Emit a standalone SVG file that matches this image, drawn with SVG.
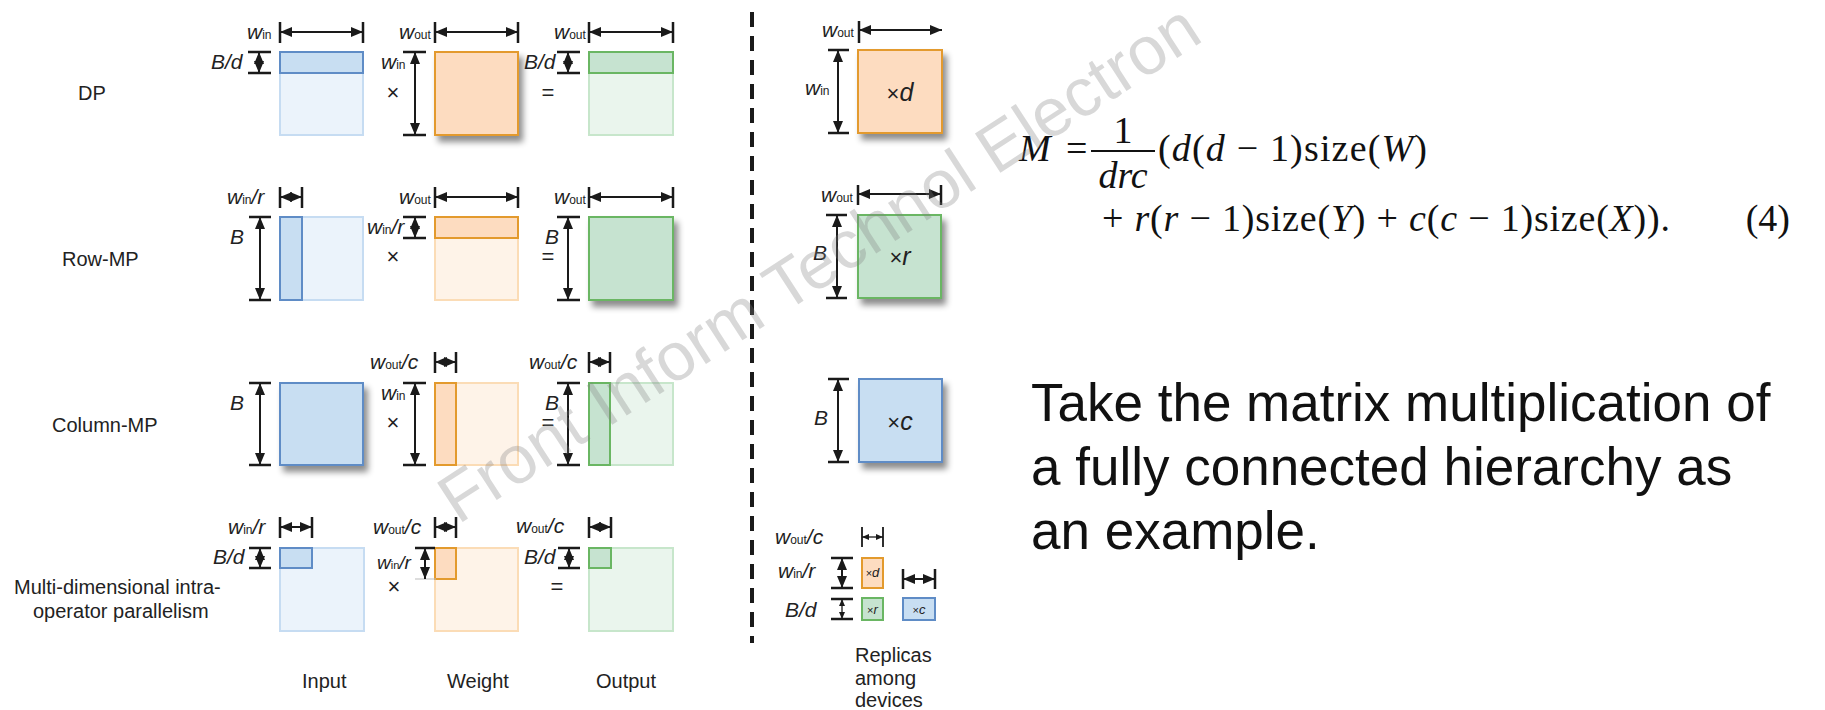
<svg xmlns="http://www.w3.org/2000/svg" width="1825" height="710" viewBox="0 0 1825 710">
<style>
text{font-family:"Liberation Sans",Arial,sans-serif;fill:#222}
.lab{font-size:21px;font-style:italic}
.sub{font-size:12px;font-style:normal}
.op{font-size:22px}
.row{font-size:20px}
.cap{font-size:20px}
.big{font-size:53px;fill:#111}
.math{font-family:"Liberation Serif","Times New Roman",serif;font-size:38px;fill:#111}
.mi{font-style:italic}
.tk{stroke:#1a1a1a;stroke-width:2.5;fill:none}
.arr{stroke:#1a1a1a;stroke-width:2;fill:none;marker-start:url(#ah);marker-end:url(#ah)}
.arrs{stroke:#1a1a1a;stroke-width:1.3;fill:none;marker-start:url(#ahs);marker-end:url(#ahs)}
.bD{fill:#c8def2;stroke:#5f8cc6;stroke-width:2}
.bL{fill:#ebf3fb;stroke:#c6dcf2;stroke-width:2}
.oD{fill:#fddcc0;stroke:#e39a2d;stroke-width:2}
.oL{fill:#fef3e8;stroke:#fbdcb6;stroke-width:2}
.gD{fill:#c6e3d0;stroke:#6ab663;stroke-width:2}
.gL{fill:#eaf5ed;stroke:#c7e6cb;stroke-width:2}
.sh{filter:url(#shadow)}
</style>
<defs>
<marker id="ah" viewBox="0 0 12 10" refX="12" refY="5" markerWidth="12" markerHeight="10" markerUnits="userSpaceOnUse" orient="auto-start-reverse"><path d="M0,0 L12,5 L0,10 z" fill="#1a1a1a"/></marker>
<marker id="ahs" viewBox="0 0 7 6" refX="7" refY="3" markerWidth="7" markerHeight="6" markerUnits="userSpaceOnUse" orient="auto-start-reverse"><path d="M0,0 L7,3 L0,6 z" fill="#1a1a1a"/></marker>
<filter id="shadow" x="-20%" y="-20%" width="150%" height="150%"><feDropShadow dx="4" dy="6" stdDeviation="3" flood-color="#000" flood-opacity="0.45"/></filter>
</defs>
<rect width="1825" height="710" fill="#fff"/>

<g id="row-labels">
<text class="row" x="78" y="100">DP</text>
<text class="row" x="62" y="266">Row-MP</text>
<text class="row" x="52" y="432">Column-MP</text>
<text class="row" x="14" y="594">Multi-dimensional intra-</text>
<text class="row" x="33" y="618">operator parallelism</text>
</g>

<g id="dp-input">
<rect class="bL" x="280" y="52" width="83" height="83"/>
<rect class="bD" x="280" y="52" width="83" height="21"/>
<path class="tk" d="M280,22V43M363,22V43"/><line class="arr" x1="280" y1="32" x2="363" y2="32"/>
<path class="tk" d="M248,52H271M248,73H271"/><line class="arr" x1="259" y1="52" x2="259" y2="73"/>
<text class="lab" x="247" y="39">w<tspan class="sub">in</tspan></text>
<text class="lab" x="211" y="69">B/d</text>
</g>
<g id="dp-weight">
<rect class="oD sh" x="435" y="52" width="83" height="83"/>
<path class="tk" d="M435,22V43M518,22V43"/><line class="arr" x1="435" y1="32" x2="518" y2="32"/>
<path class="tk" d="M403,52H426M403,135H426"/><line class="arr" x1="415" y1="52" x2="415" y2="135"/>
<text class="lab" x="399" y="39">w<tspan class="sub">out</tspan></text>
<text class="lab" x="381" y="69">w<tspan class="sub">in</tspan></text>
<text class="op" x="393" y="100" text-anchor="middle">×</text>
</g>
<g id="dp-output">
<rect class="gL" x="589" y="52" width="84" height="83"/>
<rect class="gD" x="589" y="52" width="84" height="21"/>
<path class="tk" d="M589,22V43M673,22V43"/><line class="arr" x1="589" y1="32" x2="673" y2="32"/>
<path class="tk" d="M557,52H580M557,73H580"/><line class="arr" x1="568" y1="52" x2="568" y2="73"/>
<text class="lab" x="554" y="39">w<tspan class="sub">out</tspan></text>
<text class="lab" x="524" y="69">B/d</text>
<text class="op" x="548" y="100" text-anchor="middle">=</text>
</g>

<g id="row-input">
<rect class="bL" x="280" y="217" width="83" height="83"/>
<rect class="bD" x="280" y="217" width="22" height="83"/>
<path class="tk" d="M280,187V208M302,187V208"/><line class="arr" x1="280" y1="197" x2="302" y2="197"/>
<path class="tk" d="M249,217H271M249,300H271"/><line class="arr" x1="260" y1="217" x2="260" y2="300"/>
<text class="lab" x="227" y="204">w<tspan class="sub">in</tspan>/r</text>
<text class="lab" x="237" y="244" text-anchor="middle">B</text>
</g>
<g id="row-weight">
<rect class="oL" x="435" y="217" width="83" height="83"/>
<rect class="oD" x="435" y="217" width="83" height="21"/>
<path class="tk" d="M435,187V208M518,187V208"/><line class="arr" x1="435" y1="197" x2="518" y2="197"/>
<path class="tk" d="M403,217H426M403,238H426"/><line class="arr" x1="415" y1="217" x2="415" y2="238"/>
<text class="lab" x="399" y="204">w<tspan class="sub">out</tspan></text>
<text class="lab" x="367" y="234">w<tspan class="sub">in</tspan>/r</text>
<text class="op" x="393" y="264" text-anchor="middle">×</text>
</g>
<g id="row-output">
<rect class="gD sh" x="589" y="217" width="84" height="83"/>
<path class="tk" d="M589,187V208M673,187V208"/><line class="arr" x1="589" y1="197" x2="673" y2="197"/>
<path class="tk" d="M557,217H580M557,300H580"/><line class="arr" x1="568" y1="217" x2="568" y2="300"/>
<text class="lab" x="554" y="204">w<tspan class="sub">out</tspan></text>
<text class="lab" x="552" y="244" text-anchor="middle">B</text>
<text class="op" x="548" y="264" text-anchor="middle">=</text>
</g>

<g id="col-input">
<rect class="bD sh" x="280" y="383" width="83" height="82"/>
<path class="tk" d="M249,383H271M249,465H271"/><line class="arr" x1="260" y1="383" x2="260" y2="465"/>
<text class="lab" x="237" y="410" text-anchor="middle">B</text>
</g>
<g id="col-weight">
<rect class="oL" x="435" y="383" width="83" height="82"/>
<rect class="oD" x="435" y="383" width="21" height="82"/>
<path class="tk" d="M435,352V373M456,352V373"/><line class="arr" x1="435" y1="362" x2="456" y2="362"/>
<path class="tk" d="M403,383H426M403,465H426"/><line class="arr" x1="415" y1="383" x2="415" y2="465"/>
<text class="lab" x="370" y="369">w<tspan class="sub">out</tspan>/c</text>
<text class="lab" x="381" y="400">w<tspan class="sub">in</tspan></text>
<text class="op" x="393" y="430" text-anchor="middle">×</text>
</g>
<g id="col-output">
<rect class="gL" x="589" y="383" width="84" height="82"/>
<rect class="gD" x="589" y="383" width="21" height="82"/>
<path class="tk" d="M589,352V373M610,352V373"/><line class="arr" x1="589" y1="362" x2="610" y2="362"/>
<path class="tk" d="M557,383H580M557,465H580"/><line class="arr" x1="568" y1="383" x2="568" y2="465"/>
<text class="lab" x="529" y="369">w<tspan class="sub">out</tspan>/c</text>
<text class="lab" x="552" y="410" text-anchor="middle">B</text>
<text class="op" x="548" y="430" text-anchor="middle">=</text>
</g>

<g id="multi-input">
<rect class="bL" x="280" y="548" width="84" height="83"/>
<rect class="bD" x="280" y="548" width="32" height="20"/>
<path class="tk" d="M280,517V538M312,517V538"/><line class="arr" x1="280" y1="527" x2="312" y2="527"/>
<path class="tk" d="M249,548H271M249,568H271"/><line class="arr" x1="260" y1="548" x2="260" y2="568"/>
<text class="lab" x="228" y="534">w<tspan class="sub">in</tspan>/r</text>
<text class="lab" x="213" y="564">B/d</text>
</g>
<g id="multi-weight">
<rect class="oL" x="435" y="548" width="83" height="83"/>
<rect class="oD" x="435" y="548" width="21" height="31"/>
<path class="tk" d="M435,517V538M456,517V538"/><line class="arr" x1="435" y1="527" x2="456" y2="527"/>
<path class="tk" d="M415,548H435"/><path d="M415,579H436" stroke="#bbb" stroke-width="1"/><line class="arr" x1="425" y1="548" x2="425" y2="579"/>
<text class="lab" x="373" y="534">w<tspan class="sub">out</tspan>/c</text>
<text class="lab" x="377" y="569" style="font-size:19px">w<tspan class="sub" style="font-size:11px">in</tspan>/r</text>
<text class="op" x="394" y="594" text-anchor="middle">×</text>
</g>
<g id="multi-output">
<rect class="gL" x="589" y="548" width="84" height="83"/>
<rect class="gD" x="589" y="548" width="22" height="20"/>
<path class="tk" d="M589,517V538M611,517V538"/><line class="arr" x1="589" y1="527" x2="611" y2="527"/>
<path class="tk" d="M558,548H580M558,568H580"/><line class="arr" x1="569" y1="548" x2="569" y2="568"/>
<text class="lab" x="516" y="533">w<tspan class="sub">out</tspan>/c</text>
<text class="lab" x="524" y="564">B/d</text>
<text class="op" x="557" y="594" text-anchor="middle">=</text>
</g>

<g id="col-captions">
<text class="cap" x="302" y="688">Input</text>
<text class="cap" x="447" y="688">Weight</text>
<text class="cap" x="596" y="688">Output</text>
</g>

<g id="connectors">
<line x1="752" y1="12" x2="752" y2="643" stroke="#1a1a1a" stroke-width="4" stroke-dasharray="15 9"/>
</g>

<g id="rep-weight">
<path class="tk" d="M859,21V43"/><line x1="859" y1="30" x2="942" y2="30" class="arr"/>
<rect class="oD sh" x="858" y="50" width="84" height="83"/>
<path class="tk" d="M828,50H849M828,133H849"/><line class="arr" x1="838" y1="50" x2="838" y2="133"/>
<text class="lab" x="822" y="37">w<tspan class="sub">out</tspan></text>
<text class="lab" x="805" y="95">w<tspan class="sub">in</tspan></text>
<text x="900" y="101" text-anchor="middle" style="font-size:22px">×<tspan font-style="italic" font-size="25">d</tspan></text>
</g>
<g id="rep-output">
<path class="tk" d="M858,185V205M941,185V205"/><line class="arr" x1="858" y1="194" x2="941" y2="194"/>
<rect class="gD sh" x="858" y="215" width="83" height="83"/>
<path class="tk" d="M826,215H847M826,298H847"/><line class="arr" x1="837" y1="215" x2="837" y2="298"/>
<text class="lab" x="821" y="202">w<tspan class="sub">out</tspan></text>
<text class="lab" x="820" y="260" text-anchor="middle">B</text>
<text x="900" y="265" text-anchor="middle" style="font-size:22px">×<tspan font-style="italic" font-size="25">r</tspan></text>
</g>
<g id="rep-input">
<rect class="bD sh" x="859" y="379" width="83" height="83"/>
<path class="tk" d="M828,379H849M828,462H849"/><line class="arr" x1="838" y1="379" x2="838" y2="462"/>
<text class="lab" x="821" y="425" text-anchor="middle">B</text>
<text x="900" y="430" text-anchor="middle" style="font-size:22px">×<tspan font-style="italic" font-size="25">c</tspan></text>
</g>
<g id="rep-multi">
<path d="M862,527V547M883,527V547" stroke="#1a1a1a" stroke-width="1.8"/><line class="arrs" x1="862" y1="537" x2="883" y2="537"/>
<rect class="oD" x="862" y="558" width="21" height="30"/>
<text x="872.5" y="577" text-anchor="middle" style="font-size:11px">×<tspan font-style="italic" font-size="13">d</tspan></text>
<path class="tk" d="M831,558H853M831,588H853"/><line class="arr" x1="842" y1="558" x2="842" y2="588"/>
<rect class="gD" x="862" y="598" width="21" height="22"/>
<text x="872.5" y="614" text-anchor="middle" style="font-size:11px">×<tspan font-style="italic" font-size="13">r</tspan></text>
<path class="tk" d="M831,599H853M831,619H853"/><line class="arrs" x1="842" y1="599" x2="842" y2="619"/>
<rect class="bD" x="903" y="598" width="32" height="22"/>
<text x="919" y="614" text-anchor="middle" style="font-size:11px">×<tspan font-style="italic" font-size="13">c</tspan></text>
<path class="tk" d="M903,569V589M935,569V589"/><line class="arr" x1="903" y1="579" x2="935" y2="579"/>
<text class="lab" x="775" y="544">w<tspan class="sub">out</tspan>/c</text>
<text class="lab" x="778" y="578">w<tspan class="sub">in</tspan>/r</text>
<text class="lab" x="785" y="617">B/d</text>
<text class="cap" x="855" y="662">Replicas</text>
<text class="cap" x="855" y="685">among</text>
<text class="cap" x="855" y="707">devices</text>
</g>

<g id="formula">
<text class="math mi" x="1019" y="161">M</text>
<text class="math" x="1066" y="161">=</text>
<text class="math" x="1123" y="143" text-anchor="middle">1</text>
<line x1="1091" y1="151" x2="1155" y2="151" stroke="#111" stroke-width="2"/>
<text class="math mi" x="1123" y="188" text-anchor="middle">drc</text>
<text class="math" x="1158" y="161" textLength="269" lengthAdjust="spacing">(<tspan class="mi">d</tspan>(<tspan class="mi">d</tspan> − 1)size(<tspan class="mi">W</tspan>)</text>
<text class="math" x="1102" y="231" textLength="568" lengthAdjust="spacing">+ <tspan class="mi">r</tspan>(<tspan class="mi">r</tspan> − 1)size(<tspan class="mi">Y</tspan>) + <tspan class="mi">c</tspan>(<tspan class="mi">c</tspan> − 1)size(<tspan class="mi">X</tspan>)).</text>
<text class="math" x="1790" y="231" text-anchor="end">(4)</text>
</g>

<g id="note">
<text class="big" x="1031" y="421">Take the matrix multiplication of</text>
<text class="big" x="1031" y="485">a fully connected hierarchy as</text>
<text class="big" x="1031" y="549">an example.</text>
</g>

<text x="458" y="525" transform="rotate(-33 458 525)" style="font-size:68px;fill:#808080;opacity:0.3">Front Inform Technol Electron</text>
</svg>
